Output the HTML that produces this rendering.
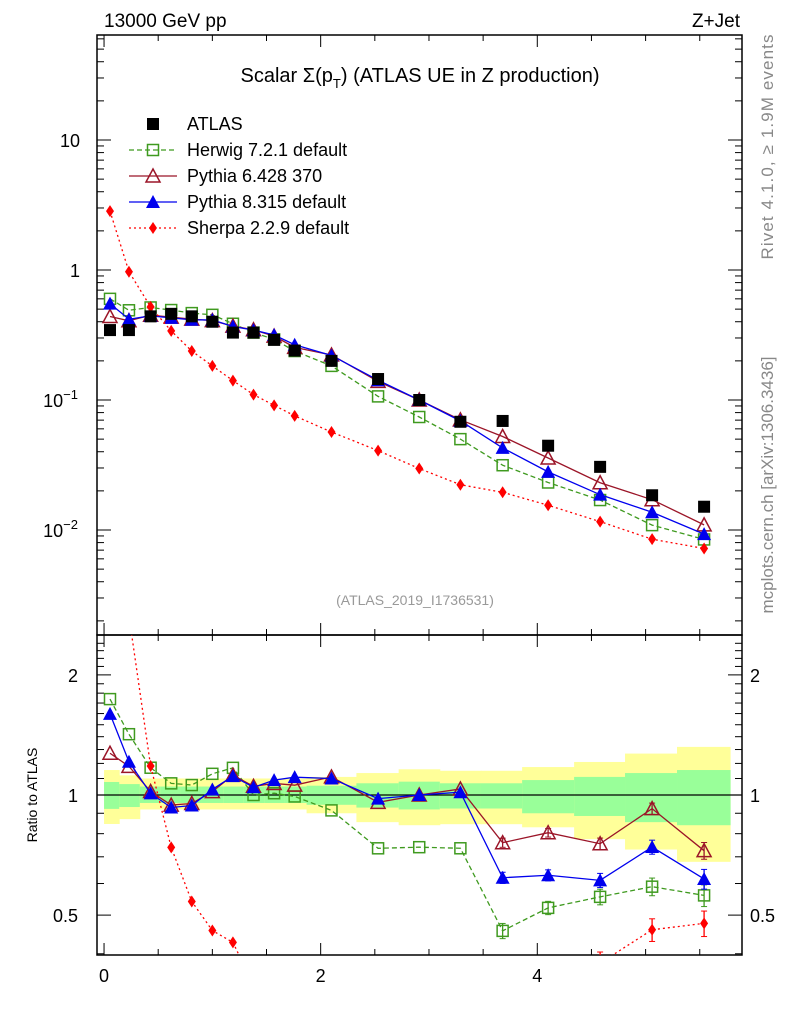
<!DOCTYPE html>
<html><head><meta charset="utf-8"><style>
html,body{margin:0;padding:0;background:#fff;}
svg{display:block;font-family:"Liberation Sans",sans-serif;}
</style></head><body>
<svg id="chart" width="786" height="1024" viewBox="0 0 786 1024" xmlns="http://www.w3.org/2000/svg">
<defs>
<clipPath id="mainClip"><rect x="97" y="35" width="645" height="600"/></clipPath>
<clipPath id="ratioClip"><rect x="97" y="635" width="645" height="320"/></clipPath>
</defs>
<text x="104" y="27" font-size="19">13000 GeV pp</text>
<text x="740" y="27" font-size="19" text-anchor="end">Z+Jet</text>
<text x="420" y="82" font-size="20" text-anchor="middle">Scalar Σ(p<tspan font-size="13" dy="6">T</tspan><tspan dy="-6">) (ATLAS UE in Z production)</tspan></text>
<text x="415" y="605" font-size="14" fill="#999" text-anchor="middle">(ATLAS_2019_I1736531)</text>
<text transform="translate(773,147) rotate(-90)" font-size="17" fill="#888" text-anchor="middle" textLength="225">Rivet 4.1.0, ≥ 1.9M events</text>
<text transform="translate(773,485) rotate(-90)" font-size="17" fill="#888" text-anchor="middle">mcplots.cern.ch [arXiv:1306.3436]</text>
<text transform="translate(37,795) rotate(-90)" font-size="14" text-anchor="middle">Ratio to ATLAS</text>
<g id="bands" clip-path="url(#ratioClip)"></g>
<g id="axes"></g>
<g id="mainSeries" clip-path="url(#mainClip)"></g>
<g id="ratioSeries" clip-path="url(#ratioClip)"></g>
<g id="legend"></g>
</svg>
<script>
const xVals = [0.055,0.23,0.43,0.62,0.81,1.0,1.19,1.38,1.57,1.76,2.1,2.53,2.91,3.29,3.68,4.1,4.58,5.06,5.54];
const atlasVals = [0.345,0.345,0.44,0.46,0.44,0.40,0.33,0.33,0.29,0.24,0.20,0.145,0.10,0.068,0.069,0.0445,0.0306,0.0185,0.0151];
const herwigVals = [0.600,0.490,0.515,0.492,0.466,0.452,0.386,0.330,0.293,0.238,0.183,0.1066,0.074,0.050,0.0315,0.0232,0.0170,0.0109,0.00846];
const py6Vals = [0.439,0.407,0.449,0.434,0.419,0.408,0.370,0.347,0.310,0.254,0.222,0.139,0.100,0.0704,0.0524,0.0358,0.0231,0.0171,0.01095];
const py8Vals = [0.551,0.418,0.444,0.428,0.414,0.413,0.368,0.345,0.316,0.266,0.220,0.142,0.100,0.0691,0.0428,0.0280,0.0187,0.0137,0.0093];
const sherpaVals = [2.84,0.97,0.52,0.34,0.238,0.183,0.141,0.110,0.091,0.0755,0.0567,0.0408,0.0297,0.0223,0.0195,0.0155,0.0116,0.0085,0.0072];
const ratioErr = [0,0,0,0,0,0,0,0,0,0,0,0,0,0,0.02,0.02,0.025,0.03,0.035];
const binEdges = [0,0.14,0.33,0.52,0.71,0.9,1.1,1.29,1.48,1.67,1.87,2.33,2.72,3.1,3.48,3.86,4.34,4.81,5.29,5.78];
const yellowHi = [1.155,1.12,1.1,1.1,1.1,1.1,1.1,1.1,1.1,1.1,1.11,1.135,1.16,1.15,1.15,1.175,1.21,1.27,1.32];
const yellowLo = [0.846,0.87,0.92,0.92,0.92,0.92,0.92,0.92,0.92,0.92,0.9,0.855,0.84,0.845,0.845,0.83,0.775,0.73,0.68];
const greenHi = [1.078,1.065,1.05,1.05,1.05,1.05,1.05,1.05,1.05,1.05,1.055,1.07,1.08,1.07,1.07,1.09,1.11,1.135,1.155];
const greenLo = [0.923,0.933,0.955,0.955,0.955,0.955,0.955,0.955,0.955,0.955,0.945,0.93,0.92,0.925,0.925,0.9,0.886,0.855,0.84];
const xTickLabels = ["0","2","4"];
const ratioTickLabels = ["2","1","0.5"];

const NS="http://www.w3.org/2000/svg";
const L=97,R=742,MT=35,MB=635,RT=635,RB=955;
const xMin=-0.065,xMax=5.89;
function sx(v){return L+(v-xMin)/(xMax-xMin)*(R-L);}
function sy(v){return 270-130*Math.log10(v);}
function ry(v){return 795-399*Math.log10(v);}
function mk(tag,attrs,parent){const e=document.createElementNS(NS,tag);for(const k in attrs)e.setAttribute(k,attrs[k]);parent.appendChild(e);return e;}
const axes=document.getElementById('axes');
const bands=document.getElementById('bands');
const ms=document.getElementById('mainSeries');
const rs=document.getElementById('ratioSeries');
const lg=document.getElementById('legend');

for(let i=0;i<binEdges.length-1;i++){
  const x0=sx(binEdges[i]),x1=sx(binEdges[i+1]);
  const y=mk('rect',{x:x0,y:ry(yellowHi[i]),width:x1-x0+0.5,height:ry(yellowLo[i])-ry(yellowHi[i]),fill:'#ffff99'},bands);
  
  
  const g=mk('rect',{x:x0,y:ry(greenHi[i]),width:x1-x0+0.5,height:ry(greenLo[i])-ry(greenHi[i]),fill:'#99ff99'},bands);
  
  
}
const one=mk('line',{x1:L,x2:R,y1:ry(1),y2:ry(1),stroke:'#000','stroke-width':1.2},bands);



mk('rect',{x:L,y:MT,width:R-L,height:MB-MT,fill:'none',stroke:'#000','stroke-width':1.5},axes);
mk('rect',{x:L,y:RT,width:R-L,height:RB-RT,fill:'none',stroke:'#000','stroke-width':1.5},axes);
for(let k=0;k<=11;k++){
  const v=k*0.5, x=sx(v), major=(k%4===0), len=major?12:6;
  [[MT,1],[MB,-1],[RT,1],[RB,-1]].forEach(([y0,d])=>{mk('line',{x1:x,x2:x,y1:y0,y2:y0+d*len,stroke:'#000','stroke-width':1},axes);});
}
xTickLabels.forEach((t,i)=>{const e=mk('text',{x:sx(i*2),y:982,'font-size':18,'text-anchor':'middle'},axes);e.textContent=t;

});
for(let d=-3;d<=1;d++){for(let m=1;m<=9;m++){const v=m*Math.pow(10,d),y=sy(v);if(y<MT||y>MB)continue;const len=m===1?14:7;
mk('line',{x1:L,x2:L+len,y1:y,y2:y,stroke:'#000'},axes);mk('line',{x1:R,x2:R-len,y1:y,y2:y,stroke:'#000'},axes);}}
const mainLabels=[[10,'10',''],[1,'1',''],[0.1,'10','−1'],[0.01,'10','−2']];
mainLabels.forEach(([v,b,e])=>{const t=mk('text',{x:e?78:80,y:sy(v)+7,'font-size':18,'text-anchor':'end'},axes);t.textContent=b;


if(e){const s=mk('tspan',{'font-size':13,dy:-8},t);s.textContent=e;}});
for(let v=0.4;v<=2.5;v+=0.1){const vv=Math.round(v*10)/10;const y=ry(vv);if(y<RT||y>RB)continue;const major=(vv===0.5||vv===1||vv===2);const len=major?14:7;
mk('line',{x1:L,x2:L+len,y1:y,y2:y,stroke:'#000'},axes);mk('line',{x1:R,x2:R-len,y1:y,y2:y,stroke:'#000'},axes);}
[2,1,0.5].forEach((v,i)=>{[[78,'end'],[750,'start']].forEach(([x,a])=>{const t=mk('text',{x:x,y:ry(v)+7,'font-size':18,'text-anchor':a},axes);t.textContent=ratioTickLabels[i];

});});

function marker(type,color,x,y,parent){
  let e;
  if(type==='sqf') e=mk('rect',{x:x-6,y:y-6,width:12,height:12,fill:'#000'},parent);
  else if(type==='sqo') e=mk('rect',{x:x-5.5,y:y-5.5,width:11,height:11,fill:'#fff','fill-opacity':0,stroke:color,'stroke-width':1.5},parent);
  else if(type==='tro') e=mk('polygon',{points:`${x},${y-7} ${x-7},${y+6} ${x+7},${y+6}`,fill:'none',stroke:color,'stroke-width':1.5},parent);
  else if(type==='trf') e=mk('polygon',{points:`${x},${y-7} ${x-7},${y+6} ${x+7},${y+6}`,fill:color},parent);
  else e=mk('polygon',{points:`${x},${y-6} ${x-4},${y} ${x},${y+6} ${x+4},${y}`,fill:color},parent);
  return e;
}
const series=[
 {name:'herwig',vals:herwigVals,color:'#3f9a1f',dash:'5,3',type:'sqo'},
 {name:'pythia6',vals:py6Vals,color:'#9b1528',dash:'',type:'tro'},
 {name:'pythia8',vals:py8Vals,color:'#0000ee',dash:'',type:'trf'},
 {name:'sherpa',vals:sherpaVals,color:'#ff0000',dash:'2,3',type:'dia'}
];
series.forEach(s=>{
  const pm=xVals.map((x,i)=>sx(x)+','+sy(s.vals[i])).join(' ');
  const pl=mk('polyline',{points:pm,fill:'none',stroke:s.color,'stroke-width':1.3,'stroke-dasharray':s.dash},ms);
  
  
  const rv=s.vals.map((v,i)=>v/atlasVals[i]);
  const pr=xVals.map((x,i)=>sx(x)+','+ry(rv[i])).join(' ');
  const rl=mk('polyline',{points:pr,fill:'none',stroke:s.color,'stroke-width':1.3,'stroke-dasharray':s.dash},rs);
  
  
  xVals.forEach((x,i)=>{
    const m=marker(s.type,s.color,sx(x),sy(s.vals[i]),ms);
    
    
    if(ratioErr[i]>0){const e=ratioErr[i];mk('line',{x1:sx(x),x2:sx(x),y1:ry(rv[i]+e),y2:ry(rv[i]-e),stroke:s.color,'stroke-width':1.3},rs);
      mk('line',{x1:sx(x)-3,x2:sx(x)+3,y1:ry(rv[i]+e),y2:ry(rv[i]+e),stroke:s.color},rs);
      mk('line',{x1:sx(x)-3,x2:sx(x)+3,y1:ry(rv[i]-e),y2:ry(rv[i]-e),stroke:s.color},rs);}
    const r=marker(s.type,s.color,sx(x),ry(rv[i]),rs);
    
    
  });
});
xVals.forEach((x,i)=>{
  const m=marker('sqf','#000',sx(x),sy(atlasVals[i]),ms);
  
  
});
const leg=[['ATLAS','sqf','#000',null],['Herwig 7.2.1 default','sqo','#3f9a1f','5,3'],['Pythia 6.428 370','tro','#9b1528',''],['Pythia 8.315 default','trf','#0000ee',''],['Sherpa 2.2.9 default','dia','#ff0000','2,3']];
leg.forEach((l,i)=>{
  const y=124+26*i;
  const g=mk('g',{},lg);
  
  
  if(l[3]!==null) mk('line',{x1:129,x2:177,y1:y,y2:y,stroke:l[2],'stroke-width':1.3,'stroke-dasharray':l[3]},g);
  marker(l[1],l[2],153,y,g);
  const t=mk('text',{x:187,y:y+6,'font-size':18},g);t.textContent=l[0];
});
</script>
</body></html>
